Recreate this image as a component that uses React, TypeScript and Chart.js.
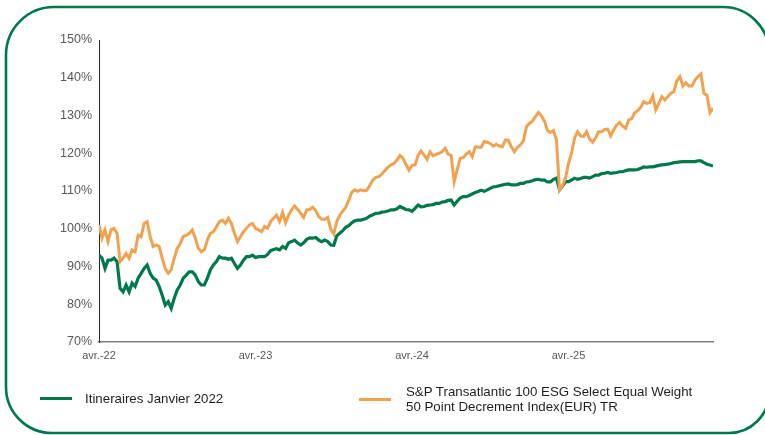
import React, { useEffect, useRef } from "react";
import { Chart, registerables } from "chart.js";

Chart.register(...registerables);

// Weekly observations, first point = start of April 2022
const tickWeeks = [0, 52, 104, 156];
const tickLabels = ["avr.-22", "avr.-23", "avr.-24", "avr.-25"];
const yMin = 70;
const yMax = 150;
const yStep = 10;

const seriesNames = [
  "Itineraires Janvier 2022",
  "S&P Transatlantic 100 ESG Select Equal Weight",
  "50 Point Decrement Index(EUR) TR",
];

const itineraires = [
  93.0, 92.2, 89.5, 91.7, 91.7, 92.2, 91.3, 84.2, 83.3, 85.1,
  83.3, 85.6, 84.7, 86.9, 88.2, 89.5, 90.4, 88.2, 86.9, 86.4,
  84.7, 82.4, 79.8, 80.7, 78.9, 81.6, 83.8, 85.1, 86.9, 87.7,
  88.6, 88.6, 87.7, 86.0, 85.1, 85.1, 86.9, 89.1, 90.4, 91.3,
  92.6, 92.2, 92.2, 91.9, 92.2, 90.8, 89.5, 90.4, 91.7, 92.6,
  92.6, 93.0, 92.4, 92.6, 92.6, 92.6, 93.2, 94.2, 94.5, 94.7,
  94.4, 95.3, 94.8, 96.3, 96.6, 97.0, 96.2, 95.7, 96.3, 97.2,
  97.6, 97.5, 97.7, 97.0, 96.6, 97.0, 96.6, 95.7, 95.6, 98.1,
  98.8, 99.5, 100.4, 100.8, 101.6, 102.1, 102.3, 102.3, 102.5, 102.8,
  103.4, 103.7, 104.1, 104.1, 104.4, 104.5, 104.7, 105.0, 105.0, 105.3,
  105.9, 105.5, 105.1, 105.0, 104.6, 105.4, 106.3, 105.8, 105.9, 106.2,
  106.3, 106.4, 106.7, 106.7, 107.1, 107.2, 107.5, 107.6, 106.3, 107.3,
  108.1, 108.5, 108.5, 108.8, 109.2, 109.6, 109.9, 110.2, 109.9, 110.3,
  110.7, 111.1, 111.2, 111.4, 111.6, 111.8, 111.9, 111.6, 111.6, 111.7,
  112.0, 112.0, 112.4, 112.5, 112.7, 113.0, 113.1, 112.9, 112.9, 112.4,
  112.4, 113.1, 113.4, 110.3, 111.3, 112.5, 112.5, 112.9, 113.4, 113.1,
  113.3, 113.6, 113.6, 113.4, 113.8, 114.2, 114.2, 114.6, 114.7, 114.9,
  114.7, 114.8, 114.9, 115.1, 115.1, 115.4, 115.6, 115.6, 115.6, 115.7,
  116.0, 116.4, 116.3, 116.4, 116.4, 116.6, 116.8, 116.9, 117.0, 117.1,
  117.3, 117.5, 117.6, 117.7, 117.8, 117.8, 117.8, 117.8, 117.8, 118.0,
  118.0, 117.5, 117.1, 116.9, 116.6,
];

const spTransatlantic = [
  101.0, 97.5, 99.7, 96.6, 99.7, 100.1, 98.8, 91.3, 92.2, 93.5,
  92.2, 94.4, 93.9, 98.3, 97.9, 101.4, 101.9, 97.9, 95.3, 95.7,
  95.3, 92.2, 89.5, 88.2, 89.1, 92.2, 94.8, 96.1, 97.9, 98.3,
  98.8, 99.7, 97.5, 94.8, 93.9, 94.4, 97.0, 98.8, 99.2, 100.5,
  101.9, 102.3, 101.4, 102.8, 101.4, 98.8, 96.6, 97.9, 99.2, 100.1,
  101.0, 101.4, 100.1, 99.7, 99.2, 100.6, 100.1, 101.9, 102.8, 103.6,
  101.9, 104.3, 101.6, 103.6, 105.0, 106.0, 105.1, 104.1, 103.0, 105.0,
  105.1, 105.7, 104.8, 103.2, 102.5, 102.5, 103.0, 99.9, 98.6, 101.9,
  103.6, 104.7, 105.7, 107.6, 109.7, 110.3, 109.9, 110.3, 110.0, 110.2,
  111.5, 112.9, 113.6, 113.8, 114.5, 115.4, 116.3, 116.9, 117.3, 118.2,
  119.4, 118.7, 117.0, 115.5, 116.8, 116.9, 119.4, 120.6, 119.5, 118.4,
  120.4, 119.3, 119.7, 120.0, 120.4, 121.3, 119.8, 119.4, 112.5, 115.6,
  118.6, 118.8, 119.8, 120.4, 119.1, 121.7, 121.6, 121.6, 123.1, 122.9,
  122.6, 121.9, 122.4, 121.9, 121.7, 123.5, 123.5, 121.7, 120.4, 121.6,
  122.2, 123.3, 127.0, 127.9, 128.5, 129.7, 130.8, 129.9, 128.5, 126.0,
  125.5, 126.0, 123.5, 110.3, 111.5, 113.4, 117.3, 120.0, 124.0, 125.7,
  124.6, 124.4, 125.7, 123.8, 122.9, 124.1, 125.7, 125.7, 126.3, 126.4,
  124.6, 126.2, 127.5, 128.2, 127.2, 126.6, 128.8, 129.2, 130.7, 131.3,
  132.2, 133.7, 133.2, 133.4, 135.2, 131.5, 133.2, 135.0, 134.1, 135.0,
  135.9, 136.3, 139.2, 140.3, 137.8, 138.7, 137.8, 137.8, 139.4, 140.3,
  141.0, 135.9, 135.4, 130.8, 132.0,
];

const GREEN = "#00794A";
const ORANGE = "#F1A250";
const FONT = "'Liberation Sans', Arial, sans-serif";

function ChartCanvas() {
  const ref = useRef<HTMLCanvasElement | null>(null);
  useEffect(() => {
    if (!ref.current) return;
    const chart = new Chart(ref.current, {
      type: "line",
      data: {
        datasets: [
          {
            label: seriesNames[1] + " " + seriesNames[2],
            data: spTransatlantic.map((v, i) => ({ x: i, y: v })),
            borderColor: ORANGE,
            borderWidth: 3,
            pointRadius: 0,
            tension: 0,
            order: 0,
          },
          {
            label: seriesNames[0],
            data: itineraires.map((v, i) => ({ x: i, y: v })),
            borderColor: GREEN,
            borderWidth: 3.2,
            pointRadius: 0,
            tension: 0,
            order: 1,
          },
        ],
      },
      options: {
        animation: false,
        responsive: false,
        devicePixelRatio: 1,
        layout: { padding: { left: 0, top: 40, right: 52, bottom: 0 } },
        plugins: { legend: { display: false }, tooltip: { enabled: false } },
        scales: {
          x: {
            type: "linear",
            min: 0,
            max: itineraires.length - 1,
            grid: { display: false, drawTicks: false },
            border: { display: true, color: "#7f7f7f", width: 1.5 },
            afterBuildTicks: (axis: any) => {
              axis.ticks = tickWeeks.map((v) => ({ value: v }));
            },
            afterFit: (scale: any) => {
              scale.height = 93;
            },
            ticks: {
              autoSkip: false,
              maxRotation: 0,
              padding: 7,
              color: "#595959",
              font: { family: FONT, size: 11 },
              callback: (value: any) => {
                const idx = tickWeeks.indexOf(Number(value));
                return idx >= 0 ? tickLabels[idx] : "";
              },
            },
          },
          y: {
            min: yMin,
            max: yMax,
            grid: { display: false, drawTicks: false },
            border: { display: true, color: "#262626", width: 1 },
            afterFit: (scale: any) => {
              scale.width = 99;
            },
            ticks: {
              stepSize: yStep,
              padding: 7,
              color: "#595959",
              font: { family: FONT, size: 12.5 },
              callback: (value: any) => value + "%",
            },
          },
        },
      },
    });
    return () => chart.destroy();
  }, []);
  return (
    <canvas
      ref={ref}
      width={765}
      height={435}
      style={{ position: "absolute", left: 0, top: 0, width: 765, height: 435 }}
    />
  );
}

function Frame() {
  // rounded panel outline; right side lies just outside the picture
  const L = 6, T = 7, R = 769, B = 433;
  const rTL = 48, rTR = 46, rBR = 40, rBL = 46;
  const d = [
    `M ${L + rTL} ${T}`,
    `L ${R - rTR} ${T}`,
    `A ${rTR} ${rTR} 0 0 1 ${R} ${T + rTR}`,
    `L ${R} ${B - rBR}`,
    `A ${rBR} ${rBR} 0 0 1 ${R - rBR} ${B}`,
    `L ${L + rBL} ${B}`,
    `A ${rBL} ${rBL} 0 0 1 ${L} ${B - rBL}`,
    `L ${L} ${T + rTL}`,
    `A ${rTL} ${rTL} 0 0 1 ${L + rTL} ${T}`,
    "Z",
  ].join(" ");
  return (
    <svg
      width={765}
      height={435}
      style={{ position: "absolute", left: 0, top: 0 }}
    >
      <path d={d} fill="none" stroke={GREEN} strokeWidth={2.6} />
    </svg>
  );
}

export default function App() {
  const textStyle: React.CSSProperties = {
    position: "absolute",
    fontFamily: FONT,
    fontSize: 13.3,
    color: "#1f1f1f",
    lineHeight: "15px",
    whiteSpace: "nowrap",
  };
  return (
    <div
      style={{
        position: "fixed",
        left: 0,
        top: 0,
        width: 765,
        height: 435,
        overflow: "hidden",
        background: "#ffffff",
      }}
    >
      <Frame />
      <ChartCanvas />
      <div style={{ position: "absolute", left: 40, top: 397, width: 32, height: 3, background: GREEN }} />
      <div style={{ ...textStyle, left: 85, top: 391 }}>{seriesNames[0]}</div>
      <div style={{ position: "absolute", left: 359, top: 397.5, width: 32, height: 3, background: ORANGE }} />
      <div style={{ ...textStyle, left: 406, top: 383.5 }}>
        {seriesNames[1]}
        <br />
        {seriesNames[2]}
      </div>
    </div>
  );
}
